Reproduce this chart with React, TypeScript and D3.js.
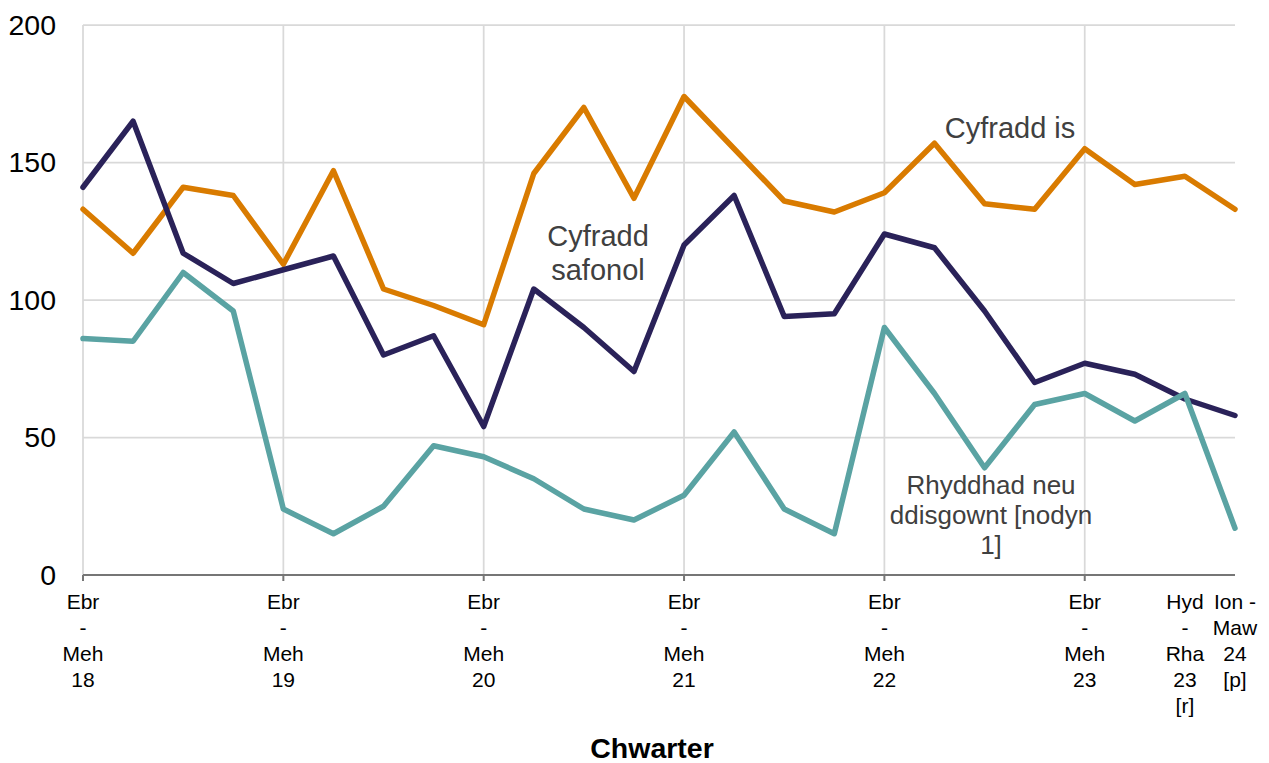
import React from "react";
import * as d3 from "d3";

const categories = [
  "Ebr - Meh 18", "Gor - Medi 18", "Hyd - Rha 18", "Ion - Maw 19",
  "Ebr - Meh 19", "Gor - Medi 19", "Hyd - Rha 19", "Ion - Maw 20",
  "Ebr - Meh 20", "Gor - Medi 20", "Hyd - Rha 20", "Ion - Maw 21",
  "Ebr - Meh 21", "Gor - Medi 21", "Hyd - Rha 21", "Ion - Maw 22",
  "Ebr - Meh 22", "Gor - Medi 22", "Hyd - Rha 22", "Ion - Maw 23",
  "Ebr - Meh 23", "Gor - Medi 23", "Hyd - Rha 23 [r]", "Ion - Maw 24 [p]",
];

const cyfraddSafonol = [141, 165, 117, 106, 111, 116, 80, 87, 54, 104, 90, 74, 120, 138, 94, 95, 124, 119, 96, 70, 77, 73, 64, 58];
const cyfraddIs = [133, 117, 141, 138, 113, 147, 104, 98, 91, 146, 170, 137, 174, 155, 136, 132, 139, 157, 135, 133, 155, 142, 145, 133];
const rhyddhad = [86, 85, 110, 96, 24, 15, 25, 47, 43, 35, 24, 20, 29, 52, 24, 15, 90, 66, 39, 62, 66, 56, 66, 17];

const yTicks = [0, 50, 100, 150, 200];
const gridCategories = ["Ebr - Meh 18", "Ebr - Meh 19", "Ebr - Meh 20", "Ebr - Meh 21", "Ebr - Meh 22", "Ebr - Meh 23"];
const tickLabels: [string, string[]][] = [
  ["Ebr - Meh 18", ["Ebr", "-", "Meh", "18"]],
  ["Ebr - Meh 19", ["Ebr", "-", "Meh", "19"]],
  ["Ebr - Meh 20", ["Ebr", "-", "Meh", "20"]],
  ["Ebr - Meh 21", ["Ebr", "-", "Meh", "21"]],
  ["Ebr - Meh 22", ["Ebr", "-", "Meh", "22"]],
  ["Ebr - Meh 23", ["Ebr", "-", "Meh", "23"]],
  ["Hyd - Rha 23 [r]", ["Hyd", "-", "Rha", "23", "[r]"]],
  ["Ion - Maw 24 [p]", ["Ion -", "Maw", "24", "[p]"]],
];

const series = [
  { name: "Cyfradd is", values: cyfraddIs, color: "#d97b00" },
  { name: "Cyfradd safonol", values: cyfraddSafonol, color: "#2a2259" },
  { name: "Rhyddhad neu ddisgownt [nodyn 1]", values: rhyddhad, color: "#5aa3a3" },
];

const FONT = "'Liberation Sans', Arial, sans-serif";

export default function App() {
  const left = 83, right = 1235, top = 25, bottom = 575;
  const x = d3.scalePoint<string>().domain(categories).range([left, right]);
  const y = d3.scaleLinear().domain([0, 200]).range([bottom, top]);
  const line = d3.line<number>().x((_, i) => x(categories[i]) as number).y((v) => y(v));

  return (
    <svg width={1269} height={763} style={{ position: "absolute", left: 0, top: 0, background: "#fff" }} fontFamily={FONT}>
      {yTicks.filter((t) => t > 0).map((t) => (
        <line key={"h" + t} x1={left} x2={right} y1={y(t)} y2={y(t)} stroke="#d9d9d9" strokeWidth={1.75} />
      ))}
      {gridCategories.map((c) => (
        <line key={"v" + c} x1={x(c)} x2={x(c)} y1={top} y2={bottom} stroke="#d9d9d9" strokeWidth={1.75} />
      ))}
      {yTicks.map((t) => (
        <text key={"yt" + t} x={56} y={y(t)} dy="0.35em" textAnchor="end" fontSize={28.5} fill="#000">{t}</text>
      ))}
      {series.map((s) => (
        <path key={s.name} d={line(s.values) || ""} fill="none" stroke={s.color} strokeWidth={5.5} strokeLinejoin="round" strokeLinecap="round" />
      ))}
      <line x1={left} x2={right} y1={bottom} y2={bottom} stroke="#767676" strokeWidth={2} />
      {gridCategories.map((c) => (
        <line key={"tk" + c} x1={x(c)} x2={x(c)} y1={bottom} y2={bottom + 6} stroke="#767676" strokeWidth={2} />
      ))}
      {tickLabels.map(([c, lines]) => (
        <text key={"xl" + c} x={x(c)} y={608.5} textAnchor="middle" fontSize={21} fill="#000">
          {lines.map((l, i) => (
            <tspan key={i} x={x(c)} dy={i === 0 ? 0 : 26}>{l}</tspan>
          ))}
        </text>
      ))}
      <text x={652} y={758} textAnchor="middle" fontSize={28.5} fontWeight="bold" fill="#000">Chwarter</text>
      <text x={598} y={245.5} textAnchor="middle" fontSize={29} fill="#404040">
        <tspan x={598} dy={0}>Cyfradd</tspan>
        <tspan x={598} dy={34}>safonol</tspan>
      </text>
      <text x={1010} y={137.5} textAnchor="middle" fontSize={29} fill="#404040">Cyfradd is</text>
      <text x={991} y={493.5} textAnchor="middle" fontSize={26} fill="#404040">
        <tspan x={991} dy={0}>Rhyddhad neu</tspan>
        <tspan x={991} dy={30}>ddisgownt [nodyn</tspan>
        <tspan x={991} dy={30}>1]</tspan>
      </text>
    </svg>
  );
}
